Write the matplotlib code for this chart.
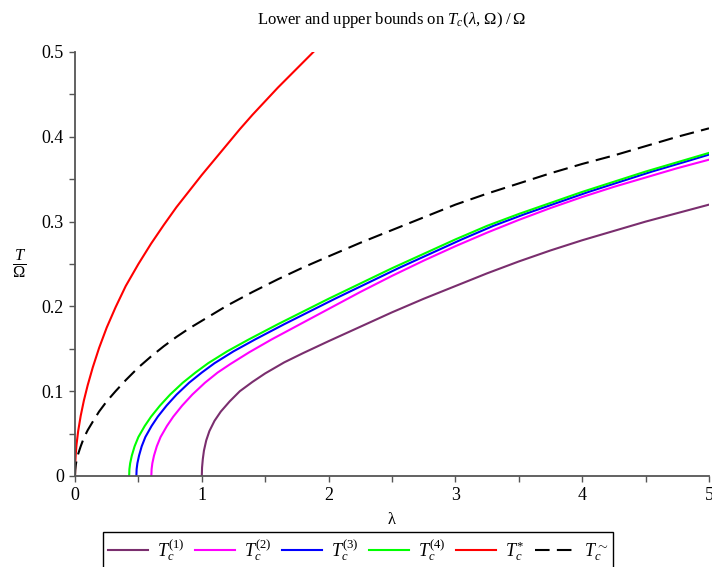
import matplotlib

matplotlib.use("Agg")
import matplotlib.pyplot as plt
from matplotlib.ticker import FixedLocator, FuncFormatter, MultipleLocator

plt.rcParams.update({
    "font.family": ["Liberation Serif", "DejaVu Serif"],
    "mathtext.fontset": "custom",
    "mathtext.rm": "Liberation Serif",
    "mathtext.it": "Liberation Serif:italic",
    "mathtext.bf": "Liberation Serif:bold",
})

# values (lambda, T/Omega)
t1_x = [1.0, 1.002, 1.008, 1.017, 1.035, 1.06, 1.10, 1.15, 1.22, 1.30, 1.40, 1.50, 1.65, 1.80,
        2.00, 2.25, 2.50, 2.75, 3.00, 3.25, 3.50, 3.75, 4.00, 4.25, 4.50, 4.75, 5.00]
t1_y = [0.0, 0.010, 0.020, 0.030, 0.042, 0.053, 0.065, 0.076, 0.088, 0.100, 0.111, 0.121, 0.134, 0.145,
        0.159, 0.176, 0.193, 0.209, 0.224, 0.239, 0.253, 0.266, 0.278, 0.289, 0.300, 0.310, 0.320]

t2_x = [0.602, 0.604, 0.610, 0.623, 0.645, 0.675, 0.725, 0.775, 0.845, 0.925, 1.025, 1.125, 1.225,
        1.375, 1.55, 1.80, 2.00, 2.25, 2.50, 2.75, 3.00, 3.25, 3.50, 3.75, 4.00, 4.25, 4.50, 4.75, 5.00]
t2_y = [0.0, 0.008, 0.015, 0.024, 0.035, 0.046, 0.059, 0.070, 0.083, 0.096, 0.110, 0.122, 0.132,
        0.146, 0.161, 0.181, 0.197, 0.217, 0.236, 0.254, 0.271, 0.287, 0.302, 0.316, 0.329, 0.341, 0.352, 0.363, 0.373]

t3_x = [0.484, 0.486, 0.492, 0.505, 0.526, 0.555, 0.604, 0.653, 0.722, 0.801, 0.90, 1.00, 1.10, 1.25,
        1.42, 1.65, 1.85, 2.05, 2.30, 2.55, 2.80, 3.05, 3.30, 3.55, 3.80, 4.05, 4.30, 4.55, 4.80, 5.00]
t3_y = [0.0, 0.008, 0.015, 0.024, 0.035, 0.046, 0.059, 0.070, 0.083, 0.096, 0.110, 0.122, 0.133, 0.147,
        0.161, 0.179, 0.194, 0.209, 0.227, 0.245, 0.262, 0.279, 0.295, 0.309, 0.322, 0.335, 0.347, 0.359, 0.370, 0.379]

t4_x = [0.427, 0.429, 0.435, 0.448, 0.47, 0.50, 0.55, 0.60, 0.67, 0.75, 0.85, 0.95, 1.05, 1.20, 1.37,
        1.60, 1.80, 2.00, 2.25, 2.50, 2.75, 3.00, 3.25, 3.50, 3.75, 4.00, 4.25, 4.50, 4.75, 5.00]
t4_y = [0.0, 0.008, 0.015, 0.024, 0.035, 0.046, 0.059, 0.070, 0.083, 0.096, 0.110, 0.122, 0.133, 0.147, 0.161,
        0.179, 0.194, 0.209, 0.227, 0.245, 0.262, 0.279, 0.295, 0.309, 0.322, 0.335, 0.347, 0.359, 0.370, 0.381]

tstar_x = [0.0, 0.002, 0.006, 0.012, 0.025, 0.045, 0.07, 0.10, 0.14, 0.19, 0.25, 0.32, 0.40, 0.50, 0.60,
           0.70, 0.80, 0.90, 1.00, 1.10, 1.20, 1.30, 1.40, 1.50, 1.60, 1.70, 1.80, 1.90, 2.00]
tstar_y = [0.0, 0.015, 0.026, 0.037, 0.053, 0.071, 0.089, 0.107, 0.128, 0.151, 0.175, 0.199, 0.224, 0.250, 0.274,
           0.296, 0.317, 0.336, 0.355, 0.373, 0.391, 0.409, 0.426, 0.442, 0.458, 0.473, 0.488, 0.503, 0.518]

ttilde_x = [0.0, 0.002, 0.006, 0.012, 0.025, 0.045, 0.07, 0.10, 0.14, 0.19, 0.25, 0.32, 0.40, 0.50, 0.60,
            0.70, 0.80, 0.90, 1.00, 1.20, 1.40, 1.60, 1.80, 2.00, 2.25, 2.50, 2.75, 3.00, 3.25, 3.50,
            3.75, 4.00, 4.25, 4.50, 4.75, 5.00]
ttilde_y = [0.0, 0.007, 0.013, 0.018, 0.026, 0.035, 0.045, 0.054, 0.064, 0.076, 0.088, 0.100, 0.113, 0.128, 0.141,
            0.153, 0.164, 0.174, 0.183, 0.201, 0.217, 0.232, 0.246, 0.259, 0.275, 0.290, 0.305, 0.320, 0.333, 0.345,
            0.357, 0.368, 0.378, 0.389, 0.400, 0.410]

x_ticks = [0, 1, 2, 3, 4, 5]
y_ticks = [0, 0.1, 0.2, 0.3, 0.4, 0.5]

fig = plt.figure(figsize=(7.12, 5.67), dpi=100)
ax = fig.add_axes([75 / 712, 1 - 476 / 567, 634 / 712, 424 / 567])

lw = 1.5
ax.plot(t1_x, t1_y, color="#7a2e6e", lw=lw, label=r"$T_c^{(1)}$")
ax.plot(t2_x, t2_y, color="#ff00ff", lw=lw, label=r"$T_c^{(2)}$")
ax.plot(t3_x, t3_y, color="#0000ff", lw=lw, label=r"$T_c^{(3)}$")
ax.plot(t4_x, t4_y, color="#00ff00", lw=lw, label=r"$T_c^{(4)}$")
ax.plot(tstar_x, tstar_y, color="#ff0000", lw=lw, label=r"$T_c^{*}$")
ax.plot(ttilde_x, ttilde_y, color="black", lw=lw, dashes=(7, 3.5), label=r"$T_c^{\sim}$")

ax.set_xlim(0, 5)
ax.set_ylim(0, 0.5)
for side in ("top", "right"):
    ax.spines[side].set_visible(False)
for side in ("left", "bottom"):
    ax.spines[side].set_color("#555555")
    ax.spines[side].set_linewidth(1.3)

ax.xaxis.set_major_locator(FixedLocator(x_ticks))
ax.xaxis.set_minor_locator(MultipleLocator(0.5))
ax.yaxis.set_major_locator(FixedLocator(y_ticks))
ax.yaxis.set_minor_locator(MultipleLocator(0.05))
ax.xaxis.set_major_formatter(FuncFormatter(lambda v, p: f"{v:g}"))
ax.yaxis.set_major_formatter(FuncFormatter(lambda v, p: f"{v:g}"))
ax.tick_params(which="both", direction="out", length=4, width=1, color="#555555",
               labelsize=13, pad=4)

ax.set_title(r"Lower and upper bounds on $T_c(\lambda,\,\Omega)\;/\;\Omega$", fontsize=12, pad=20)
ax.set_xlabel("λ", fontsize=12, labelpad=6)
ax.set_ylabel(r"$\frac{T}{\Omega}$", fontsize=17, rotation=0, labelpad=16, va="center")

fig.legend(loc="upper center", bbox_to_anchor=(358 / 712, 1 - 532 / 567), ncol=6,
           fontsize=13, frameon=True, fancybox=False, edgecolor="black", framealpha=1,
           handlelength=2.2, columnspacing=0.6, handletextpad=0.5, borderpad=0.3,
           borderaxespad=0)

fig.savefig("out.png", dpi=100)
